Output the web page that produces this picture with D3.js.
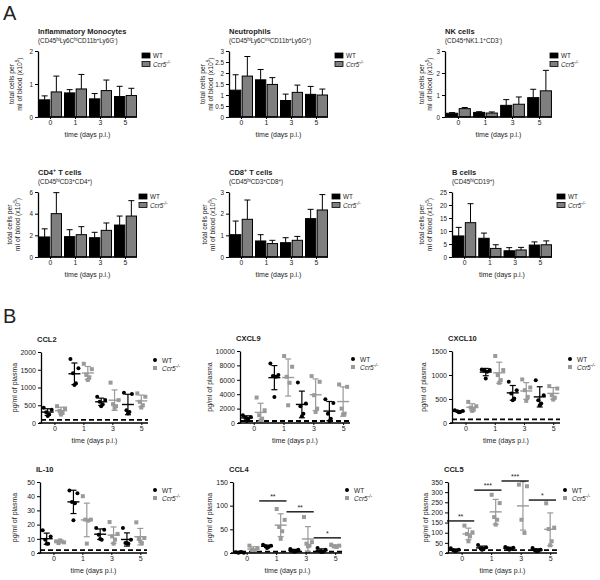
<!DOCTYPE html>
<html><head><meta charset="utf-8">
<script src="https://cdn.jsdelivr.net/npm/d3@7"></script>
<style>body{margin:0;background:#fff} text{font-family:"Liberation Sans",Arial,Helvetica,sans-serif;fill:#222}</style>
</head><body><svg id="c" width="600" height="580"></svg>
<script>
// ---------- shared categories ----------
const groups = ["0", "1", "3", "5"];
const series = ["WT", "Ccr5"];
const seriesLabels = ["WT", "Ccr5^{-/-}"];
const xAxisLabel = "time (days p.i.)";

// ---------- Panel A: bar data (mean, SD) ----------
const monoTitle = "Inflammatory Monocytes", monoSub = "(CD45^{hi}Ly6C^{hi}CD11b^{+}Ly6G^{-})";
const monoWT = [0.52, 0.73, 0.55, 0.62], monoWTsd = [0.12, 0.10, 0.16, 0.31];
const monoKO = [0.76, 0.85, 0.80, 0.65], monoKOsd = [0.48, 0.44, 0.32, 0.22];
const monoTicks = [0, 1, 2];

const neutTitle = "Neutrophils", neutSub = "(CD45^{hi}Ly6C^{int}CD11b^{+}Ly6G^{+})";
const neutWT = [1.22, 1.69, 0.75, 1.03], neutWTsd = [0.70, 0.47, 0.29, 0.36];
const neutKO = [1.86, 1.48, 1.12, 1.00], neutKOsd = [0.89, 0.31, 0.33, 0.27];
const neutTicks = [0, 0.5, 1, 1.5, 2, 2.5, 3];

const nkTitle = "NK cells", nkSub = "(CD45^{+}NK1.1^{+}CD3^{-})";
const nkWT = [0.17, 0.21, 0.53, 0.88], nkWTsd = [0.03, 0.03, 0.26, 0.38];
const nkKO = [0.38, 0.18, 0.58, 1.19], nkKOsd = [0.05, 0.05, 0.33, 0.93];
const nkTicks = [0, 1, 2, 3];

const cd4Title = "CD4^{+} T cells", cd4Sub = "(CD45^{hi}CD3^{+}CD4^{+})";
const cd4WT = [1.85, 1.88, 1.78, 2.95], cd4WTsd = [0.75, 0.64, 0.50, 0.83];
const cd4KO = [4.00, 2.06, 2.46, 3.78], cd4KOsd = [1.94, 0.74, 0.68, 1.42];
const cd4Ticks = [0, 2, 4, 6];

const cd8Title = "CD8^{+} T cells", cd8Sub = "(CD45^{hi}CD3^{+}CD8^{+})";
const cd8WT = [1.03, 0.74, 0.66, 1.77], cd8WTsd = [0.63, 0.29, 0.23, 0.43];
const cd8KO = [1.74, 0.62, 0.77, 2.17], cd8KOsd = [0.89, 0.15, 0.18, 0.71];
const cd8Ticks = [0, 1, 2, 3];

const bTitle = "B cells", bSub = "(CD45^{hi}CD19^{+})";
const bWT = [8.1, 7.2, 2.4, 4.6], bWTsd = [3.3, 2.0, 1.2, 1.2];
const bKO = [13.2, 3.3, 2.7, 4.7], bKOsd = [7.3, 1.4, 1.0, 1.5];
const bTicks = [0, 5, 10, 15, 20, 25];

const aYLabel1 = "total cells per", aYLabel2 = "ml of blood (x10^{5})";

// ---------- Panel B: individual plasma values ----------
const bYLabel = "pg/ml of plasma";

const ccl2WT = [[430, 370, 300, 240, 200], [1800, 1545, 1400, 1118, 1071], [740, 645, 597, 531, 474], [853, 815, 360, 313, 265]];
const ccl2KO = [[474, 408, 341, 284, 237], [1668, 1517, 1355, 1290, 1213], [1137, 645, 531, 474, 427], [834, 740, 597, 502, 436]];
const ccl2Ticks = [0, 500, 1000, 1500, 2000], ccl2LOD = 90;

const cxcl9WT = [[1070, 837, 744, 605, 279], [8279, 6651, 6512, 6419, 3628], [5628, 2698, 2326, 1302, 930], [3302, 2791, 1302, 605, 279]];
const cxcl9KO = [[3535, 1767, 1070, 605, 372], [9302, 7814, 6419, 5581, 2465], [6512, 5721, 3860, 2000, 1535], [5349, 5023, 2000, 1302, 1209]];
const cxcl9Ticks = [0, 2000, 4000, 6000, 8000, 10000], cxcl9LOD = 280;

const cxcl10WT = [[265, 251, 244, 230, 223], [1117, 1103, 1089, 1068, 928], [858, 684, 614, 509, 475], [893, 579, 475, 405, 370]];
const cxcl10KO = [[440, 349, 321, 279, 251], [1396, 1103, 998, 893, 837], [907, 740, 684, 544, 461], [768, 719, 579, 530, 488]];
const cxcl10Ticks = [0, 500, 1000, 1500], cxcl10LOD = 75;

const il10WT = [[16, 11.7, 9.4, 6.6, 6.6], [44, 42, 36, 35, 23], [17.6, 16.4, 12.9, 9.4, 9.9], [17.6, 9.4, 7, 6.6, 7]];
const il10KO = [[8.2, 7.5, 7, 8.2, 8.9], [40, 23.5, 23.5, 22.8, 6.6], [21.8, 13.4, 11.7, 9.4, 6.6], [21.6, 10.6, 9.9, 7, 8.2]];
const il10Ticks = [0, 10, 20, 30, 40, 50], il10LOD = 2;

const ccl4WT = [[1.4, 0.7, 0.7, 2.1, 1.4], [17.6, 15.5, 14.1, 12.7, 10.6], [8.5, 7, 4.9, 3.5, 2.8], [10.6, 7, 3.5, 2.8, 2.1]];
const ccl4KO = [[15.5, 10.6, 7, 4.9, 3.5], [93, 70, 55, 46, 30], [76, 23, 19.7, 15.5, 14], [17.6, 15.5, 14, 12.7, 14]];
const ccl4Ticks = [0, 50, 100, 150], ccl4LOD = 3;
const ccl4Sig = ["", "**", "**", "*"], ccl4SigY = [0, 110, 87, 32];

const ccl5WT = [[23, 16.4, 13, 11.5, 10], [39, 28, 23, 19.7, 16.4], [29.6, 26.3, 23, 19.7, 16.4], [24.6, 16.4, 13, 10, 8.2]];
const ccl5KO = [[135, 102, 94, 82, 57.5], [287, 246, 177, 164, 140], [337, 329, 164, 99], [245, 125, 118, 58, 38]];
const ccl5Ticks = [0, 50, 100, 150, 200, 250, 300, 350], ccl5LOD = 14;
const ccl5Sig = ["**", "***", "***", "*"], ccl5SigY = [158, 310, 355, 261];

// ---------- drawing ----------
const svg = d3.select("#c");
const FONT = '"Liberation Sans",Arial,Helvetica,sans-serif';

function rich(sel, str, size) {
  const parts = str.split(/(\^\{[^}]*\})/).filter(p => p !== "");
  let sup = false;
  parts.forEach(p => {
    if (p.startsWith("^{")) {
      sel.append("tspan").attr("dy", sup ? 0 : -size * 0.38).attr("font-size", size * 0.7).text(p.slice(2, -1));
      sup = true;
    } else {
      sel.append("tspan").attr("dy", sup ? size * 0.38 : 0).text(p);
      sup = false;
    }
  });
  return sel;
}

function styleAxis(g, fs) {
  g.select(".domain").attr("stroke", "#000").attr("stroke-width", 1.3);
  g.selectAll(".tick line").attr("stroke", "#000").attr("stroke-width", 1);
  g.selectAll(".tick text").attr("font-size", fs).attr("font-family", FONT).attr("fill", "#333");
}

svg.append("text").attr("x", 3).attr("y", 20).attr("font-size", 20).text("A");
svg.append("text").attr("x", 3).attr("y", 323).attr("font-size", 20).text("B");

const aPanels = [
  {L: {x0: 38, x1: 137, top: 51, bot: 117, leg: 142, yl: 14}, title: monoTitle, sub: monoSub, wt: monoWT, wtsd: monoWTsd, ko: monoKO, kosd: monoKOsd, ticks: monoTicks},
  {L: {x0: 229, x1: 328, top: 51, bot: 117, leg: 335, yl: 205}, title: neutTitle, sub: neutSub, wt: neutWT, wtsd: neutWTsd, ko: neutKO, kosd: neutKOsd, ticks: neutTicks},
  {L: {x0: 445, x1: 552, top: 51, bot: 117, leg: 550, yl: 424}, title: nkTitle, sub: nkSub, wt: nkWT, wtsd: nkWTsd, ko: nkKO, kosd: nkKOsd, ticks: nkTicks},
  {L: {x0: 38, x1: 137, top: 192, bot: 257, leg: 139, yl: 12}, title: cd4Title, sub: cd4Sub, wt: cd4WT, wtsd: cd4WTsd, ko: cd4KO, kosd: cd4KOsd, ticks: cd4Ticks},
  {L: {x0: 229, x1: 328, top: 192, bot: 257, leg: 332, yl: 207}, title: cd8Title, sub: cd8Sub, wt: cd8WT, wtsd: cd8WTsd, ko: cd8KO, kosd: cd8KOsd, ticks: cd8Ticks},
  {L: {x0: 452, x1: 552, top: 192, bot: 257, leg: 557, yl: 424}, title: bTitle, sub: bSub, wt: bWT, wtsd: bWTsd, ko: bKO, kosd: bKOsd, ticks: bTicks},
];

aPanels.forEach(P => {
  const L = P.L;
  const g = svg.append("g");
  const x = d3.scaleBand().domain(groups).range([L.x0 + 1, L.x1]).paddingInner(0.12).paddingOuter(0.02);
  const xs = d3.scaleBand().domain(series).range([0, x.bandwidth()]).paddingInner(0.12);
  const ymax = d3.max(P.ticks);
  const y = d3.scaleLinear().domain([0, ymax]).range([L.bot, L.top]);

  rich(g.append("text").attr("x", L.x0).attr("y", L.top - 17).attr("font-size", 7.5).attr("font-weight", "bold").attr("fill", "#111"), P.title, 7.5);
  rich(g.append("text").attr("x", L.x0).attr("y", L.top - 8).attr("font-size", 6.3), P.sub, 6.3);

  const cy = (L.top + L.bot) / 2;
  rich(g.append("text").attr("transform", `translate(${L.yl},${cy}) rotate(-90)`).attr("text-anchor", "middle").attr("font-size", 6.8), aYLabel1, 6.8);
  rich(g.append("text").attr("transform", `translate(${L.yl + 8},${cy}) rotate(-90)`).attr("text-anchor", "middle").attr("font-size", 6.8), aYLabel2, 6.8);

  const vals = [[P.wt, P.wtsd], [P.ko, P.kosd]];
  groups.forEach((gr, gi) => {
    series.forEach((s, si) => {
      const m = vals[si][0][gi], sd = vals[si][1][gi];
      const bx = x(gr) + xs(s), bw = xs.bandwidth();
      const cx = bx + bw / 2;
      g.append("line").attr("x1", cx).attr("x2", cx).attr("y1", y(m)).attr("y2", y(m + sd)).attr("stroke", "#000").attr("stroke-width", 1);
      g.append("line").attr("x1", cx - 3).attr("x2", cx + 3).attr("y1", y(m + sd)).attr("y2", y(m + sd)).attr("stroke", "#000").attr("stroke-width", 1);
      g.append("rect").attr("x", bx).attr("y", y(m)).attr("width", bw).attr("height", y(0) - y(m))
        .attr("fill", si === 0 ? "#000" : "#7f7f7f").attr("stroke", "#000").attr("stroke-width", 1);
    });
  });

  const ya = g.append("g").attr("transform", `translate(${L.x0},0)`)
    .call(d3.axisLeft(y).tickValues(P.ticks).tickSize(3).tickPadding(2).tickSizeOuter(0).tickFormat(d3.format("~g")));
  styleAxis(ya, 6.3);
  const xa = g.append("g").attr("transform", `translate(0,${L.bot})`)
    .call(d3.axisBottom(x).tickSize(2).tickPadding(1.5).tickSizeOuter(0));
  xa.select(".domain").attr("d", `M${L.x0},0H${L.x1}`);
  styleAxis(xa, 6.8);

  g.append("text").attr("x", (L.x0 + L.x1) / 2).attr("y", L.bot + 20).attr("text-anchor", "middle").attr("font-size", 7).text(xAxisLabel);

  series.forEach((s, si) => {
    const ly = L.top + 2 + si * 8.5;
    g.append("rect").attr("x", L.leg).attr("y", ly).attr("width", 8).attr("height", 5)
      .attr("fill", si === 0 ? "#000" : "#7f7f7f").attr("stroke", "#000").attr("stroke-width", 0.8);
    const t = g.append("text").attr("x", L.leg + 11).attr("y", ly + 5).attr("font-size", 6.3);
    if (si === 1) t.attr("font-style", "italic");
    rich(t, seriesLabels[si], 6.3);
  });
});

const bPanels = [
  {L: {x0: 41, x1: 148, top: 352, bot: 423, leg: 155, yl: 15}, title: "CCL2", wt: ccl2WT, ko: ccl2KO, ticks: ccl2Ticks, lod: ccl2LOD},
  {L: {x0: 240, x1: 350, top: 351, bot: 423, leg: 353, yl: 210}, title: "CXCL9", wt: cxcl9WT, ko: cxcl9KO, ticks: cxcl9Ticks, lod: cxcl9LOD},
  {L: {x0: 452, x1: 560, top: 351, bot: 423, leg: 570, yl: 424}, title: "CXCL10", wt: cxcl10WT, ko: cxcl10KO, ticks: cxcl10Ticks, lod: cxcl10LOD},
  {L: {x0: 40, x1: 147, top: 482, bot: 553, leg: 155, yl: 15}, title: "IL-10", wt: il10WT, ko: il10KO, ticks: il10Ticks, lod: il10LOD},
  {L: {x0: 233, x1: 342, top: 482, bot: 553, leg: 347, yl: 210}, title: "CCL4", wt: ccl4WT, ko: ccl4KO, ticks: ccl4Ticks, lod: ccl4LOD, sig: ccl4Sig, sigY: ccl4SigY},
  {L: {x0: 448, x1: 557, top: 482, bot: 553, leg: 565, yl: 426}, title: "CCL5", wt: ccl5WT, ko: ccl5KO, ticks: ccl5Ticks, lod: ccl5LOD, sig: ccl5Sig, sigY: ccl5SigY},
];

const spread = [-4, 4, -1.5, 1.5, 0, -3, 3];

bPanels.forEach(P => {
  const L = P.L;
  const g = svg.append("g");
  const slots = [];
  groups.forEach(gr => series.forEach(s => slots.push(gr + "|" + s)));
  const x = d3.scaleBand().domain(slots).range([L.x0, L.x1]);
  const sx = k => x(k) + x.bandwidth() / 2;
  const xt = d3.scalePoint().domain(groups).range([(sx("0|WT") + sx("0|Ccr5")) / 2, sx("5|Ccr5")]);
  const y = d3.scaleLinear().domain([0, d3.max(P.ticks)]).range([L.bot, L.top]);

  g.append("text").attr("x", L.x0 - 4).attr("y", L.top - 10).attr("font-size", 7.5).attr("font-weight", "bold").attr("fill", "#111").text(P.title);
  g.append("text").attr("transform", `translate(${L.yl},${(L.top + L.bot) / 2}) rotate(-90)`).attr("text-anchor", "middle")
    .attr("dominant-baseline", "middle").attr("font-size", 7).text(bYLabel);

  // detection limit
  g.append("line").attr("x1", L.x0).attr("x2", L.x1).attr("y1", y(P.lod)).attr("y2", y(P.lod))
    .attr("stroke", "#000").attr("stroke-width", 1.8).attr("stroke-dasharray", "5,3");

  const data = [P.wt, P.ko];
  groups.forEach((gr, gi) => {
    series.forEach((s, si) => {
      const v = data[si][gi];
      const cx = sx(gr + "|" + s);
      const col = si === 0 ? "#000" : "#9a9a9a";
      const m = d3.mean(v), sd = d3.deviation(v);
      const lo = Math.max(0, m - sd), hi = m + sd;
      v.forEach((val, i) => {
        if (si === 0) g.append("circle").attr("cx", cx + spread[i]).attr("cy", y(val)).attr("r", 2).attr("fill", col);
        else g.append("rect").attr("x", cx + spread[i] - 2).attr("y", y(val) - 2).attr("width", 4).attr("height", 4).attr("fill", col);
      });
      g.append("line").attr("x1", cx).attr("x2", cx).attr("y1", y(lo)).attr("y2", y(hi)).attr("stroke", col).attr("stroke-width", 1.2);
      [lo, hi].forEach(b => g.append("line").attr("x1", cx - 3).attr("x2", cx + 3).attr("y1", y(b)).attr("y2", y(b)).attr("stroke", col).attr("stroke-width", 1.2));
      g.append("line").attr("x1", cx - 6).attr("x2", cx + 6).attr("y1", y(m)).attr("y2", y(m)).attr("stroke", col).attr("stroke-width", 1.4);
    });
    if (P.sig && P.sig[gi]) {
      const xa = x(gr + "|WT") - 1, xb = x(gr + "|Ccr5") + x.bandwidth() - 1;
      g.append("line").attr("x1", xa).attr("x2", xb).attr("y1", y(P.sigY[gi])).attr("y2", y(P.sigY[gi])).attr("stroke", "#000").attr("stroke-width", 1.3);
      g.append("text").attr("x", (xa + xb) / 2).attr("y", y(P.sigY[gi]) - 2).attr("text-anchor", "middle").attr("font-size", 7).text(P.sig[gi]);
    }
  });

  const ya = g.append("g").attr("transform", `translate(${L.x0},0)`)
    .call(d3.axisLeft(y).tickValues(P.ticks).tickSize(3).tickPadding(2).tickSizeOuter(0).tickFormat(d3.format("d")));
  styleAxis(ya, 7);
  const xa = g.append("g").attr("transform", `translate(0,${L.bot})`).call(d3.axisBottom(xt).tickSize(2).tickPadding(1.5).tickSizeOuter(0));
  xa.select(".domain").attr("d", `M${L.x0 - 2},0H${L.x1}`);
  styleAxis(xa, 7);
  g.append("text").attr("x", (L.x0 + L.x1) / 2).attr("y", L.bot + 19.5).attr("text-anchor", "middle").attr("font-size", 7).text(xAxisLabel);

  series.forEach((s, si) => {
    const ly = L.top + 8 + si * 8;
    if (si === 0) g.append("circle").attr("cx", L.leg).attr("cy", ly).attr("r", 2).attr("fill", "#000");
    else g.append("rect").attr("x", L.leg - 2).attr("y", ly - 2).attr("width", 4).attr("height", 4).attr("fill", "#9a9a9a");
    const t = g.append("text").attr("x", L.leg + 7).attr("y", ly + 2.5).attr("font-size", 6.5);
    if (si === 1) t.attr("font-style", "italic");
    rich(t, seriesLabels[si], 6.5);
  });
});
</script></body></html>
